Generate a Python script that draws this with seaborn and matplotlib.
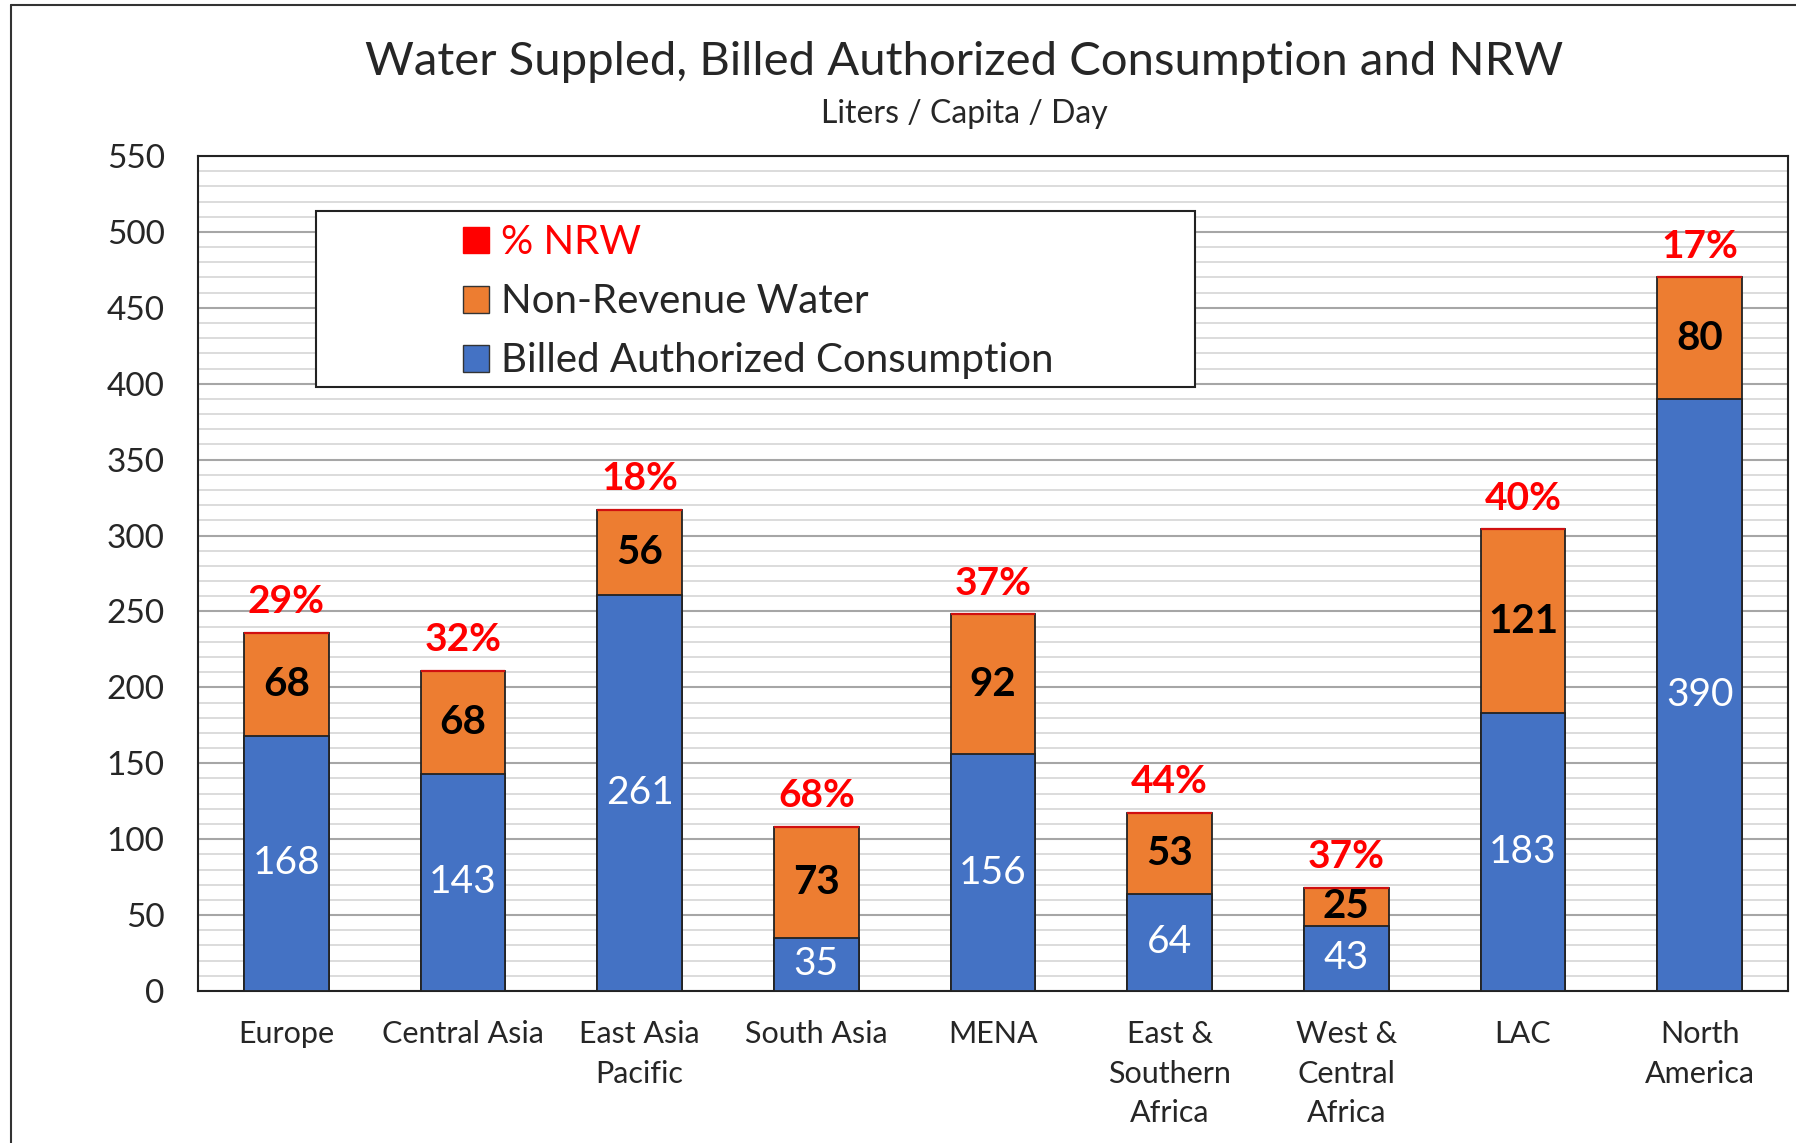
import numpy as np
import pandas as pd
import seaborn as sns
import matplotlib.pyplot as plt
from matplotlib.patches import Patch, Rectangle
from matplotlib.lines import Line2D
from matplotlib.ticker import MultipleLocator

regions = ["Europe", "Central Asia", "East Asia\nPacific", "South Asia", "MENA",
           "East &\nSouthern\nAfrica", "West &\nCentral\nAfrica", "LAC", "North\nAmerica"]
billed = [168, 143, 261, 35, 156, 64, 43, 183, 390]
nrw = [68, 68, 56, 73, 92, 53, 25, 121, 80]
nrw_pct = [29, 32, 18, 68, 37, 44, 37, 40, 17]

blue = "#4472C4"
orange = "#ED7D31"
red = "#FF0000"

sns.set_style("white")
plt.rcParams['font.family'] = ['Lato', 'DejaVu Sans']

df = pd.DataFrame({"region": regions, "billed": billed, "nrw": nrw})
df["total"] = df["billed"] + df["nrw"]

W, H = 1796, 1143
fig = plt.figure(figsize=(W / 100, H / 100), dpi=100)
ax = fig.add_axes([198 / W, 1 - 991 / H, (1788 - 198) / W, (991 - 156) / H])

bw = 0.48
sns.barplot(data=df, x="region", y="total", color=orange, width=bw,
            edgecolor="#222222", linewidth=1.3, saturation=1, ax=ax, zorder=3)
sns.barplot(data=df, x="region", y="billed", color=blue, width=bw,
            edgecolor="#222222", linewidth=1.3, saturation=1, ax=ax, zorder=4)
# thin red cap = the "% NRW" series sitting on top of each stack
xs = np.arange(len(regions))
ax.hlines(df["total"], xs - bw / 2, xs + bw / 2, color="#d01010", lw=1.6, zorder=5)

ax.set_ylim(0, 550)
ax.set_xlim(-0.5, len(regions) - 0.5)
ax.yaxis.set_major_locator(MultipleLocator(50))
ax.yaxis.set_minor_locator(MultipleLocator(10))
ax.grid(which="minor", axis="y", color="#d9d9d9", lw=1.3, zorder=0)
ax.grid(which="major", axis="y", color="#a6a6a6", lw=1.5, zorder=1)
ax.set_axisbelow(True)
ax.tick_params(axis="both", which="both", length=0)
ax.tick_params(axis="y", labelsize=24, pad=24)
ax.tick_params(axis="x", labelsize=22, pad=21)
for lbl in ax.get_xticklabels():
    lbl.set_linespacing(1.5)
ax.set_xlabel("")
ax.set_ylabel("")
for s in ax.spines.values():
    s.set_color("#222222")
    s.set_linewidth(1.5)

for i in range(len(regions)):
    b, n, p = billed[i], nrw[i], nrw_pct[i]
    ax.text(i, b / 2, str(b), ha="center", va="center", color="white",
            fontsize=28, zorder=6)
    ax.text(i, b + n / 2, str(n), ha="center", va="center", color="black",
            fontsize=29, fontweight="bold", zorder=6)
    ax.annotate(f"{p}%", (i, b + n), xytext=(0, 10), textcoords="offset points",
                ha="center", va="bottom", color=red, fontsize=28,
                fontweight="bold", zorder=6)

# legend box
box = Rectangle((316 / W, 1 - 387 / H), (1195 - 316) / W, (387 - 211) / H,
                transform=fig.transFigure, facecolor="white", edgecolor="#222222",
                lw=1.5, zorder=5)
ax.add_patch(box)
box.set_clip_on(False)
handles = [Patch(facecolor=red, edgecolor=red),
           Patch(facecolor=orange, edgecolor="#333333"),
           Patch(facecolor=blue, edgecolor="#333333")]
labels = ["% NRW", "Non-Revenue Water", "Billed Authorized Consumption"]
leg = fig.legend(handles, labels, loc="upper left", bbox_to_anchor=(447 / W, 1 - 208 / H),
                 frameon=False, fontsize=29, handlelength=0.65, handleheight=0.65,
                 handletextpad=0.3, labelspacing=0.55, borderaxespad=0)
leg.set_zorder(7)
leg.get_texts()[0].set_color(red)

fig.text(964 / W, 1 - 62 / H, "Water Suppled, Billed Authorized Consumption and NRW",
         ha="center", va="center", fontsize=34)
fig.text(964 / W, 1 - 114 / H, "Liters / Capita / Day", ha="center", va="center",
         fontsize=23)

# outer chart frame (cropped on right and bottom)
fig.add_artist(Line2D([11 / W, 11 / W], [0, 1 - 5 / H], transform=fig.transFigure,
                      color="#333333", lw=1.5))
fig.add_artist(Line2D([11 / W, 1], [1 - 5 / H, 1 - 5 / H], transform=fig.transFigure,
                      color="#333333", lw=1.5))

fig.savefig("out.png", dpi=100)
